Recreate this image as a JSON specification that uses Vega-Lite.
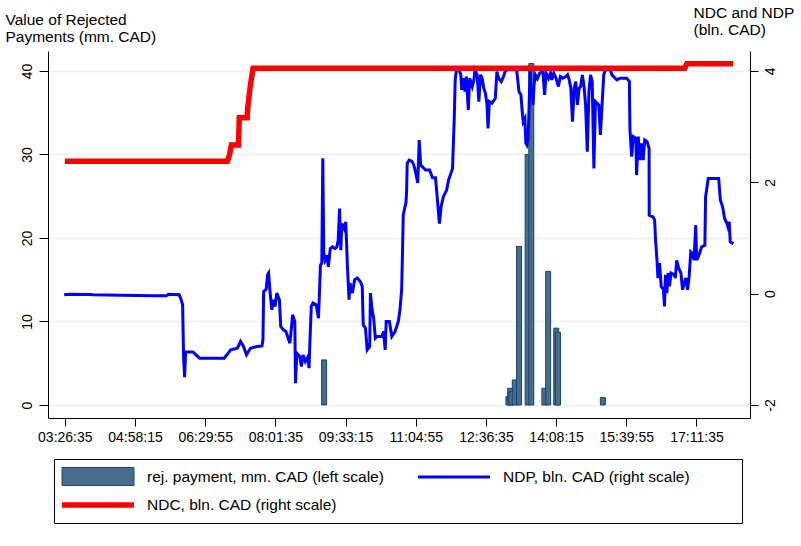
{
  "$schema": "https://vega.github.io/schema/vega-lite/v6.json",
  "width": 702,
  "height": 367,
  "autosize": {"type": "none"},
  "padding": {"left": 48, "top": 51, "right": 51, "bottom": 128},
  "background": "white",
  "config": {
    "font": "Liberation Sans",
    "view": {"stroke": null},
    "axis": {
      "domainColor": "black", "tickColor": "black", "labelColor": "black", "titleColor": "black",
      "labelFontSize": 14, "labelFlush": false, "labelOverlap": false, "titleFontWeight": "normal", "titleFontSize": 15.5
    },
    "legend": {"labelFontSize": 15.5, "labelColor": "black", "labelLimit": 500, "titleLimit": 900, "symbolSize": 324, "orient": "none"}
  },
  "datasets": {
    "bars": [
      {"t": 32712, "v": 5.4},
      {"t": 47158, "v": 1.0},
      {"t": 47296, "v": 2.0},
      {"t": 47389, "v": 1.6},
      {"t": 47659, "v": 3.0},
      {"t": 47992, "v": 19.0},
      {"t": 48663, "v": 30.0},
      {"t": 48950, "v": 40.9},
      {"t": 49977, "v": 2.0},
      {"t": 50271, "v": 16.0},
      {"t": 50904, "v": 9.2},
      {"t": 51043, "v": 8.7},
      {"t": 54558, "v": 0.9}
    ],
    "ndc": [
      {"t": 12395, "v": 2.38},
      {"t": 25141, "v": 2.38},
      {"t": 25296, "v": 2.49},
      {"t": 25450, "v": 2.67},
      {"t": 26000, "v": 2.67},
      {"t": 26068, "v": 3.16},
      {"t": 26686, "v": 3.16},
      {"t": 26725, "v": 3.33},
      {"t": 26817, "v": 3.51},
      {"t": 26941, "v": 3.75},
      {"t": 27150, "v": 4.05},
      {"t": 60985, "v": 4.05},
      {"t": 61140, "v": 4.13},
      {"t": 64770, "v": 4.13}
    ],
    "ndp": [
      {"t": 12341, "v": -0.02}, {"t": 12781, "v": -0.01}, {"t": 14458, "v": -0.015}, {"t": 14558, "v": -0.02},
      {"t": 16876, "v": -0.03}, {"t": 19348, "v": -0.04}, {"t": 20352, "v": -0.04}, {"t": 20506, "v": -0.01},
      {"t": 21356, "v": -0.02}, {"t": 21511, "v": -0.11}, {"t": 21626, "v": -0.2}, {"t": 21704, "v": -1.16},
      {"t": 21781, "v": -1.5}, {"t": 21858, "v": -1.05}, {"t": 22438, "v": -1.05}, {"t": 22955, "v": -1.16},
      {"t": 24886, "v": -1.16}, {"t": 25396, "v": -1.01}, {"t": 25914, "v": -0.98}, {"t": 26169, "v": -0.86},
      {"t": 26377, "v": -0.94}, {"t": 26632, "v": -1.1}, {"t": 26941, "v": -0.98}, {"t": 27459, "v": -0.95},
      {"t": 27845, "v": -0.94}, {"t": 27922, "v": -0.83}, {"t": 27976, "v": 0.04}, {"t": 28177, "v": 0.08},
      {"t": 28285, "v": 0.34}, {"t": 28363, "v": 0.37}, {"t": 28486, "v": 0.01}, {"t": 28618, "v": -0.29},
      {"t": 28749, "v": -0.11}, {"t": 28872, "v": -0.23}, {"t": 29004, "v": 0.01}, {"t": 29212, "v": -0.11},
      {"t": 29313, "v": -0.59}, {"t": 29521, "v": -0.65}, {"t": 29722, "v": -0.68}, {"t": 30031, "v": -0.89},
      {"t": 30163, "v": -0.59}, {"t": 30240, "v": -0.38}, {"t": 30417, "v": -0.5}, {"t": 30472, "v": -1.61},
      {"t": 30572, "v": -1.07}, {"t": 30804, "v": -1.13}, {"t": 30935, "v": -1.31}, {"t": 31066, "v": -1.1},
      {"t": 31244, "v": -1.22}, {"t": 31453, "v": -1.13}, {"t": 31530, "v": -1.34}, {"t": 31607, "v": -0.83},
      {"t": 31708, "v": -0.23}, {"t": 31839, "v": -0.17}, {"t": 32094, "v": -0.2}, {"t": 32271, "v": -0.44},
      {"t": 32349, "v": 0.01}, {"t": 32426, "v": 0.51}, {"t": 32534, "v": 0.55}, {"t": 32611, "v": 2.43},
      {"t": 32689, "v": 0.73}, {"t": 32789, "v": 0.6}, {"t": 32944, "v": 0.69}, {"t": 33044, "v": 0.48},
      {"t": 33198, "v": 0.81}, {"t": 33384, "v": 0.84}, {"t": 33562, "v": 0.81}, {"t": 33716, "v": 0.84},
      {"t": 33816, "v": 0.96}, {"t": 33925, "v": 1.53}, {"t": 34025, "v": 0.78}, {"t": 34102, "v": 1.26},
      {"t": 34280, "v": 1.17}, {"t": 34411, "v": 1.29}, {"t": 34543, "v": 0.48}, {"t": 34666, "v": -0.11},
      {"t": 34743, "v": 0.19}, {"t": 34929, "v": 0.01}, {"t": 35107, "v": 0.25}, {"t": 35315, "v": 0.28},
      {"t": 35570, "v": 0.21}, {"t": 35701, "v": 0.13}, {"t": 35779, "v": -0.56}, {"t": 35956, "v": -0.62},
      {"t": 36088, "v": -1.01}, {"t": 36288, "v": -0.95}, {"t": 36343, "v": 0.01}, {"t": 36474, "v": -0.29},
      {"t": 36597, "v": -0.44}, {"t": 36729, "v": -0.8}, {"t": 36860, "v": -0.77}, {"t": 37246, "v": -0.77},
      {"t": 37370, "v": -0.68}, {"t": 37501, "v": -1.01}, {"t": 37579, "v": -0.5}, {"t": 37833, "v": -0.5},
      {"t": 38019, "v": -0.77}, {"t": 38274, "v": -0.68}, {"t": 38529, "v": -0.5}, {"t": 38660, "v": -0.29},
      {"t": 38791, "v": 0.07}, {"t": 38869, "v": 0.87}, {"t": 38915, "v": 1.41}, {"t": 39046, "v": 1.56},
      {"t": 39124, "v": 1.62}, {"t": 39178, "v": 1.83}, {"t": 39224, "v": 2.34}, {"t": 39378, "v": 2.4},
      {"t": 39587, "v": 2.38}, {"t": 39742, "v": 2.31}, {"t": 39896, "v": 2.17}, {"t": 40051, "v": 1.99},
      {"t": 40166, "v": 2.76}, {"t": 40282, "v": 2.31}, {"t": 40669, "v": 2.22}, {"t": 40978, "v": 2.22},
      {"t": 41209, "v": 2.08}, {"t": 41441, "v": 2.08}, {"t": 41596, "v": 1.68}, {"t": 41750, "v": 1.26},
      {"t": 41881, "v": 1.56}, {"t": 42059, "v": 1.74}, {"t": 42314, "v": 1.86}, {"t": 42468, "v": 2.04},
      {"t": 42777, "v": 2.25}, {"t": 42909, "v": 3.12}, {"t": 42986, "v": 3.84}, {"t": 43086, "v": 4.02},
      {"t": 43295, "v": 4.02}, {"t": 43426, "v": 3.93}, {"t": 43504, "v": 3.66}, {"t": 43604, "v": 3.87},
      {"t": 43759, "v": 3.63}, {"t": 43859, "v": 3.9}, {"t": 44013, "v": 3.3}, {"t": 44122, "v": 3.87},
      {"t": 44322, "v": 3.72}, {"t": 44454, "v": 3.84}, {"t": 44531, "v": 4.02}, {"t": 44709, "v": 3.93},
      {"t": 44840, "v": 3.45}, {"t": 44971, "v": 3.93}, {"t": 45095, "v": 3.87}, {"t": 45226, "v": 3.69},
      {"t": 45358, "v": 3.6}, {"t": 45481, "v": 3.39}, {"t": 45559, "v": 2.97}, {"t": 45667, "v": 3.45},
      {"t": 45867, "v": 3.42}, {"t": 46130, "v": 3.51}, {"t": 46254, "v": 3.99}, {"t": 46385, "v": 3.87},
      {"t": 46594, "v": 3.81}, {"t": 46771, "v": 3.9}, {"t": 46903, "v": 3.99}, {"t": 47026, "v": 4.02},
      {"t": 47799, "v": 4.02}, {"t": 47876, "v": 3.87}, {"t": 47984, "v": 3.63}, {"t": 48139, "v": 3.57},
      {"t": 48239, "v": 3.27}, {"t": 48316, "v": 3.09}, {"t": 48448, "v": 3.15}, {"t": 48525, "v": 2.7},
      {"t": 48602, "v": 2.67}, {"t": 48703, "v": 2.79}, {"t": 48757, "v": 3.21}, {"t": 48857, "v": 4.02},
      {"t": 48911, "v": 3.57}, {"t": 49012, "v": 3.69}, {"t": 49089, "v": 3.39}, {"t": 49166, "v": 3.75},
      {"t": 49266, "v": 3.93}, {"t": 49421, "v": 3.86}, {"t": 49606, "v": 3.96}, {"t": 49861, "v": 3.99},
      {"t": 49993, "v": 3.57}, {"t": 50116, "v": 3.96}, {"t": 50302, "v": 3.87}, {"t": 50456, "v": 3.96},
      {"t": 50557, "v": 3.84}, {"t": 50711, "v": 3.96}, {"t": 50889, "v": 3.87}, {"t": 51074, "v": 3.72},
      {"t": 51229, "v": 3.9}, {"t": 51406, "v": 3.87}, {"t": 51661, "v": 3.9}, {"t": 51793, "v": 3.93},
      {"t": 51924, "v": 3.84}, {"t": 52047, "v": 3.69}, {"t": 52179, "v": 3.09}, {"t": 52310, "v": 3.69},
      {"t": 52434, "v": 3.81}, {"t": 52565, "v": 3.39}, {"t": 52696, "v": 3.69}, {"t": 52820, "v": 3.72},
      {"t": 52951, "v": 3.93}, {"t": 53083, "v": 3.72}, {"t": 53206, "v": 3.39}, {"t": 53338, "v": 2.55},
      {"t": 53469, "v": 3.63}, {"t": 53592, "v": 3.93}, {"t": 53724, "v": 3.81}, {"t": 53855, "v": 2.25},
      {"t": 53978, "v": 3.45}, {"t": 54110, "v": 3.42}, {"t": 54241, "v": 3.39}, {"t": 54365, "v": 2.85},
      {"t": 54496, "v": 3.39}, {"t": 54628, "v": 3.93}, {"t": 54751, "v": 4.02}, {"t": 55137, "v": 4.02},
      {"t": 55269, "v": 3.93}, {"t": 55524, "v": 3.87}, {"t": 55655, "v": 3.84}, {"t": 55910, "v": 3.87},
      {"t": 56428, "v": 3.87}, {"t": 56636, "v": 3.81}, {"t": 56682, "v": 2.94}, {"t": 56814, "v": 2.46},
      {"t": 56945, "v": 2.82}, {"t": 57146, "v": 2.79}, {"t": 57200, "v": 2.13}, {"t": 57331, "v": 2.82},
      {"t": 57455, "v": 2.4}, {"t": 57586, "v": 2.7}, {"t": 57718, "v": 2.4}, {"t": 57841, "v": 2.76},
      {"t": 58027, "v": 2.73}, {"t": 58181, "v": 2.61}, {"t": 58190, "v": 1.41}, {"t": 58490, "v": 1.38},
      {"t": 58614, "v": 1.32}, {"t": 58691, "v": 0.96}, {"t": 58799, "v": 0.6}, {"t": 58876, "v": 0.28},
      {"t": 59000, "v": 0.55}, {"t": 59131, "v": 0.13}, {"t": 59309, "v": 0.07}, {"t": 59386, "v": -0.23},
      {"t": 59463, "v": 0.34}, {"t": 59572, "v": 0.01}, {"t": 59672, "v": 0.37}, {"t": 59777, "v": 0.13},
      {"t": 59904, "v": 0.37}, {"t": 60159, "v": 0.34}, {"t": 60236, "v": 0.28}, {"t": 60344, "v": 0.6},
      {"t": 60499, "v": 0.46}, {"t": 60676, "v": 0.37}, {"t": 60808, "v": 0.07}, {"t": 60931, "v": 0.19},
      {"t": 61063, "v": 0.28}, {"t": 61194, "v": 0.07}, {"t": 61317, "v": 0.3}, {"t": 61449, "v": 0.75},
      {"t": 61580, "v": 0.72}, {"t": 61704, "v": 0.6}, {"t": 61835, "v": 1.23}, {"t": 61912, "v": 0.6},
      {"t": 62090, "v": 0.69}, {"t": 62299, "v": 0.84}, {"t": 62553, "v": 0.87}, {"t": 62608, "v": 1.74},
      {"t": 62816, "v": 2.07}, {"t": 63635, "v": 2.07}, {"t": 63766, "v": 1.68}, {"t": 63944, "v": 1.56},
      {"t": 64098, "v": 1.35}, {"t": 64284, "v": 1.26}, {"t": 64361, "v": 1.2}, {"t": 64462, "v": 1.29},
      {"t": 64539, "v": 0.93}, {"t": 64794, "v": 0.9}
    ]
  },
  "layer": [
    {
      "data": {"name": "bars"},
      "mark": {"type": "bar", "size": 5, "stroke": "#1A476F", "strokeWidth": 1},
      "encoding": {
        "x": {
          "field": "t", "type": "quantitative",
          "scale": {"domain": [11468, 65697], "nice": false, "zero": false},
          "axis": {
            "title": null, "grid": false, "tickSize": 8, "labelPadding": 4,
            "values": [12395, 17895, 23395, 28895, 34395, 39895, 45395, 50895, 56395, 61895],
            "labelExpr": "utcFormat(datum.value * 1000, '%H:%M:%S')"
          }
        },
        "y": {
          "field": "v", "type": "quantitative",
          "scale": {"domain": [-1.557, 42.395], "nice": false, "zero": false},
          "axis": {
            "orient": "left", "values": [0, 10, 20, 30, 40], "grid": true, "gridColor": "#EAF2F3", "gridWidth": 1.5,
            "tickSize": 9, "labelAngle": -90, "labelAlign": "center", "labelBaseline": "bottom", "labelPadding": 5,
            "title": ["Value of Rejected", "Payments (mm. CAD)"],
            "titleAngle": 0, "titleAlign": "left", "titleBaseline": "alphabetic",
            "titleX": -43, "titleY": -27, "titleLineHeight": 17.7
          }
        },
        "color": {
          "datum": "rej. payment, mm. CAD (left scale)",
          "scale": {"domain": ["rej. payment, mm. CAD (left scale)"], "range": ["#486C8C"]},
          "legend": {
            "orient": "none", "legendX": 6, "legendY": 408,
            "title": "\u200b                                                                                                                                                       \u200b",
            "titleOrient": "bottom", "titleFontSize": 16, "titlePadding": 11, "titleLimit": 900,
            "padding": 8, "strokeColor": "black",
            "symbolType": "M-4,-1H4V1H-4Z", "symbolStrokeWidth": 1, "symbolStrokeColor": "#1A476F", "symbolFillColor": "#486C8C",
            "symbolOffset": 26.5, "labelOffset": 39.5
          }
        }
      }
    },
    {
      "layer": [
        {
          "data": {"name": "ndp"},
          "mark": {"type": "line", "strokeWidth": 3, "strokeJoin": "miter"},
          "encoding": {
            "x": {"field": "t", "type": "quantitative"},
            "y": {
              "field": "v", "type": "quantitative",
              "scale": {"domain": [-2.234, 4.359], "nice": false, "zero": false},
              "axis": {
                "orient": "right", "values": [-2, 0, 2, 4], "grid": false, "labelExpr": "datum.value",
                "tickSize": 8, "labelAngle": -90, "labelAlign": "center", "labelBaseline": "top", "labelPadding": 5,
                "title": ["NDC and NDP", "(bln. CAD)"],
                "titleAngle": 0, "titleAlign": "left", "titleBaseline": "alphabetic",
                "titleX": -57, "titleY": -33.7, "titleLineHeight": 17.5
              }
            },
            "color": {
              "datum": "NDP, bln. CAD (right scale)",
              "scale": {"domain": ["NDP, bln. CAD (right scale)"], "range": ["#0000FF"]},
              "legend": {
                "orient": "none", "legendX": 370, "legendY": 415.5, "title": null, "padding": 0,
                "symbolType": "M-4,0H4", "symbolStrokeWidth": 3, "symbolStrokeColor": "#0000FF",
                "symbolOffset": 25.5, "labelOffset": 38.5
              }
            }
          }
        },
        {
          "data": {"name": "ndc"},
          "mark": {"type": "line", "strokeWidth": 5.5},
          "encoding": {
            "x": {"field": "t", "type": "quantitative"},
            "y": {"field": "v", "type": "quantitative"},
            "color": {
              "datum": "NDC, bln. CAD (right scale)",
              "scale": {"domain": ["NDC, bln. CAD (right scale)"], "range": ["#FF0000"]},
              "legend": {
                "orient": "none", "legendX": 14, "legendY": 442, "title": null, "padding": 0,
                "symbolType": "M-4,0H4", "symbolStrokeWidth": 5.5, "symbolStrokeColor": "#FF0000",
                "symbolOffset": 24, "labelOffset": 37
              }
            }
          }
        }
      ],
      "resolve": {"scale": {"color": "independent"}, "legend": {"color": "independent"}}
    }
  ],
  "resolve": {"scale": {"y": "independent", "color": "independent"}, "legend": {"color": "independent"}}
}
